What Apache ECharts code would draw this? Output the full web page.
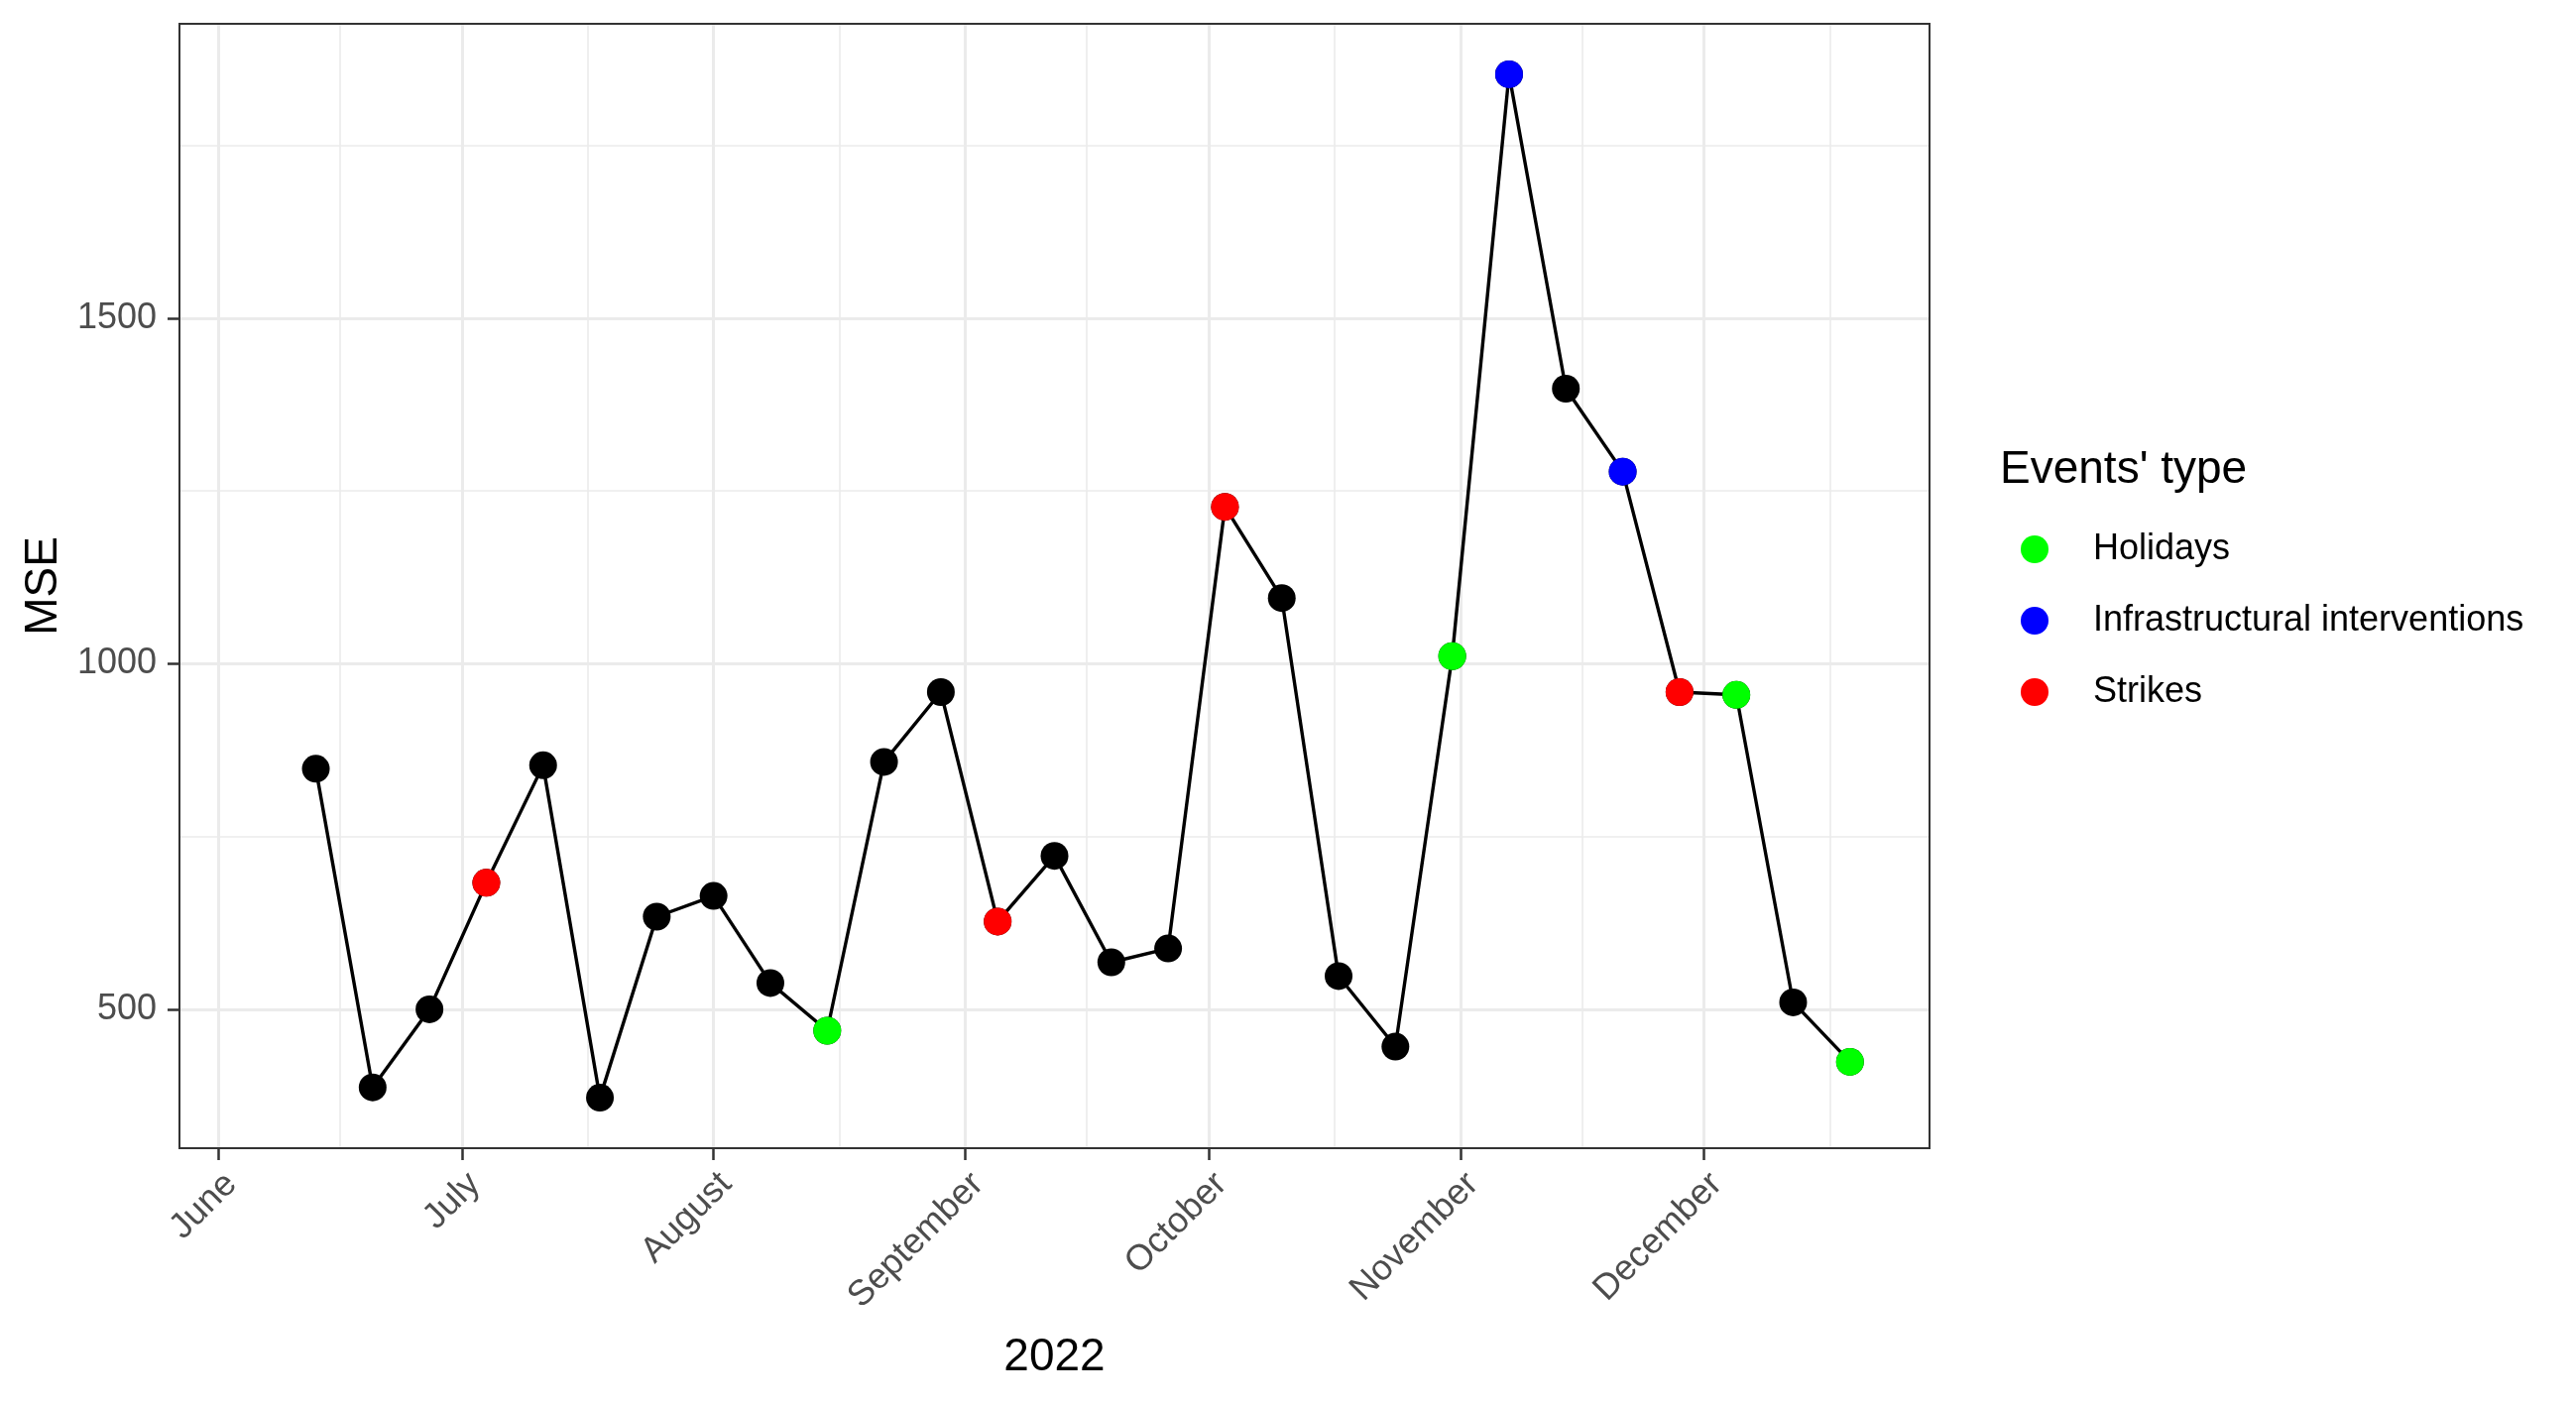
<!DOCTYPE html>
<html><head><meta charset="utf-8">
<script src="https://cdn.jsdelivr.net/npm/echarts@6/dist/echarts.min.js"></script>
<style>html,body{margin:0;padding:0;background:#fff}#chart{width:2598px;height:1417px}</style>
</head><body><div id="chart"></div>
<script>
// ---- data ----
const weekDates = ['2022-06-13','2022-06-20','2022-06-27','2022-07-04','2022-07-11','2022-07-18','2022-07-25',
  '2022-08-01','2022-08-08','2022-08-15','2022-08-22','2022-08-29','2022-09-05','2022-09-12','2022-09-19','2022-09-26',
  '2022-10-03','2022-10-10','2022-10-17','2022-10-24','2022-10-31','2022-11-07','2022-11-14','2022-11-21','2022-11-28',
  '2022-12-05','2022-12-12','2022-12-19'];
const mseValues = [848, 387, 500, 683, 853, 372, 634, 664, 538, 469, 858, 959, 627, 722, 568, 588,
  1227, 1095, 548, 446, 1011, 1853, 1398, 1278, 959, 955, 510, 424];
const eventTypes = ['', '', '', 'Strikes', '', '', '', '', '', 'Holidays', '', '', 'Strikes', '', '', '',
  'Strikes', '', '', '', 'Holidays', 'Infrastructural interventions', '', 'Infrastructural interventions', 'Strikes',
  'Holidays', '', 'Holidays'];
const eventCategories = ['Holidays', 'Infrastructural interventions', 'Strikes'];
const eventColors = ['#00FF00', '#0000FF', '#FF0000'];
const monthBreaks = ['2022-06-01','2022-07-01','2022-08-01','2022-09-01','2022-10-01','2022-11-01','2022-12-01'];
const monthLabels = ['June','July','August','September','October','November','December'];
const yTicks = [500, 1000, 1500];
const yMinorTicks = [750, 1250, 1750];

// ---- helpers ----
function ts(s){ const p = s.split('-').map(Number); return Date.UTC(p[0], p[1]-1, p[2]); }
const DAY = 86400000;
const xMin = ts('2022-06-06') - 9.8 * DAY;
const xMax = ts('2022-12-19') + 9.8 * DAY;
const majorX = monthBreaks.map(ts);
const breaksExt = majorX.concat([ts('2023-01-01')]);
const minorX = [];
for (let i = 0; i < breaksExt.length - 1; i++) minorX.push((breaksExt[i] + breaksExt[i+1]) / 2);
const labelByTs = {};
majorX.forEach((t, i) => labelByTs[t] = monthLabels[i]);

const grid = '#EBEBEB';
const markData = []
  .concat(minorX.filter(v => v > xMin && v < xMax).map(v => ({xAxis: v, lineStyle: {width: 1.6, color: grid}})))
  .concat(yMinorTicks.map(v => ({yAxis: v, lineStyle: {width: 1.6, color: grid}})))
  .concat(majorX.map(v => ({xAxis: v, lineStyle: {width: 3, color: grid}})))
  .concat(yTicks.map(v => ({yAxis: v, lineStyle: {width: 3, color: grid}})));

const lineData = weekDates.map((d, i) => [ts(d), mseValues[i]]);

const eventSeries = eventCategories.map((cat, k) => ({
  name: cat,
  type: 'scatter',
  symbol: 'circle',
  symbolSize: 28,
  z: 5,
  itemStyle: {color: eventColors[k], opacity: 1},
  data: weekDates.map((d, i) => eventTypes[i] === cat ? [ts(d), mseValues[i]] : null).filter(x => x)
}));

const chart = echarts.init(document.getElementById('chart'), null, {renderer: 'canvas'});
chart.setOption({
  animation: false,
  backgroundColor: '#ffffff',
  textStyle: {fontFamily: 'Liberation Sans'},
  title: {
    text: "Events' type",
    left: 2012, top: 446,
    textStyle: {fontSize: 46, fontWeight: 'normal', color: '#000', fontFamily: 'Liberation Sans'}
  },
  legend: {
    orient: 'vertical',
    left: 2033, top: 531,
    itemWidth: 108, itemHeight: 28, itemGap: 36,
    data: eventCategories.map(c => ({name: c, icon: 'circle'})),
    textStyle: {fontSize: 36, color: '#000', lineHeight: 36, fontFamily: 'Liberation Sans'},
    selectedMode: false
  },
  grid: {
    left: 181, top: 24, width: 1765, height: 1134,
    show: true, borderColor: '#333333', borderWidth: 2, backgroundColor: 'transparent',
    z: 10, outerBoundsMode: 'none', containLabel: false
  },
  xAxis: {
    type: 'value', min: xMin, max: xMax, scale: true,
    name: '2022', nameLocation: 'middle', nameGap: 188,
    nameTextStyle: {fontSize: 46, color: '#000', fontFamily: 'Liberation Sans'},
    axisLine: {show: false},
    axisTick: {show: true, length: 12, lineStyle: {color: '#333333', width: 2.5}, customValues: majorX},
    axisLabel: {
      show: true, rotate: 45, margin: 18, fontSize: 36, color: '#4D4D4D',
      verticalAlign: 'top',
      customValues: majorX,
      formatter: v => labelByTs[v] || ''
    },
    splitLine: {show: false}
  },
  yAxis: {
    type: 'value', min: 299, max: 1926,
    name: 'MSE', nameLocation: 'middle', nameGap: 106, nameRotate: 90,
    nameTextStyle: {fontSize: 46, color: '#000', fontFamily: 'Liberation Sans'},
    axisLine: {show: false},
    axisTick: {show: true, length: 12, lineStyle: {color: '#333333', width: 2.5}, customValues: yTicks},
    axisLabel: {show: true, margin: 23, fontSize: 36, color: '#4D4D4D', customValues: yTicks,
      formatter: v => String(v)},
    splitLine: {show: false}
  },
  series: [{
    name: 'MSE',
    type: 'line',
    data: lineData,
    z: 3,
    symbol: 'circle', symbolSize: 28, showSymbol: true, showAllSymbol: true,
    itemStyle: {color: '#000'},
    lineStyle: {color: '#000', width: 3.4},
    markLine: {
      silent: true, z: 1, animation: false,
      symbol: ['none', 'none'],
      label: {show: false},
      lineStyle: {type: 'solid'},
      emphasis: {disabled: true},
      data: markData
    }
  }].concat(eventSeries)
});
</script></body></html>
